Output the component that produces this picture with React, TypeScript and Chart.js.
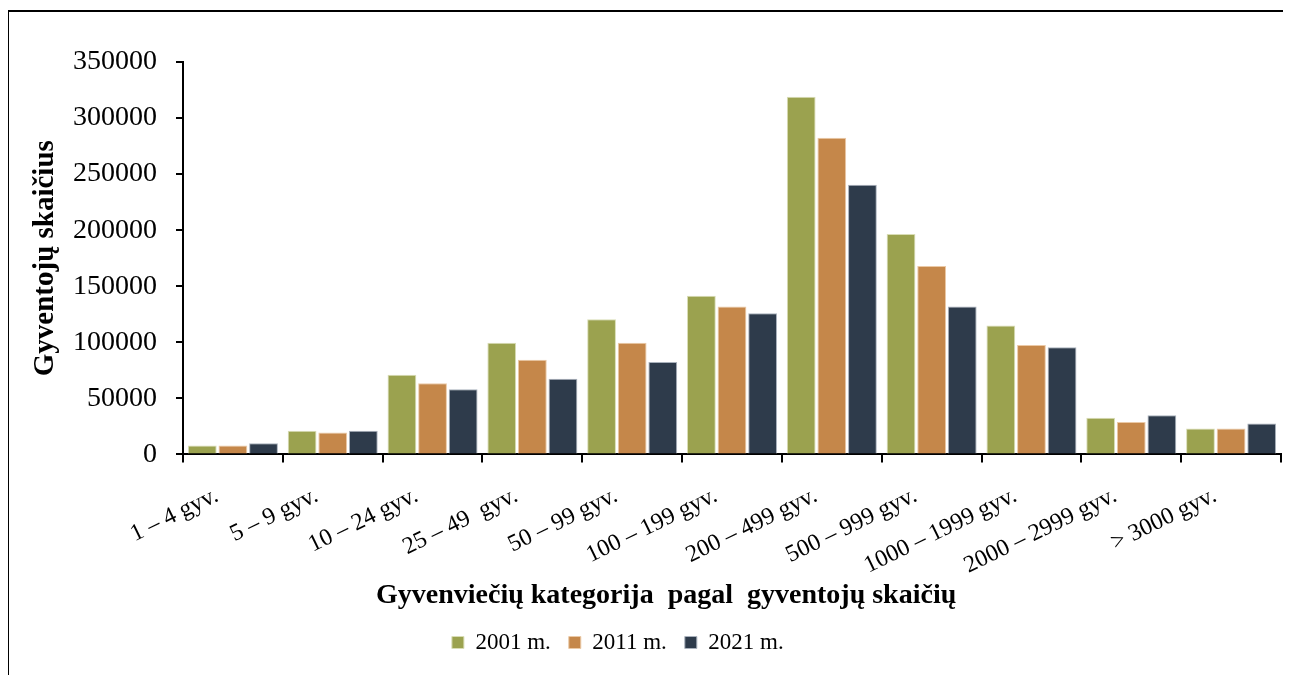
import React, { useEffect, useRef } from "react";
import { Chart, registerables } from "chart.js";

Chart.register(...registerables);

const categories = [
  "1 – 4 gyv.",
  "5 – 9 gyv.",
  "10 – 24 gyv.",
  "25 – 49  gyv.",
  "50 – 99 gyv.",
  "100 – 199 gyv.",
  "200 – 499 gyv.",
  "500 – 999 gyv.",
  "1000 – 1999 gyv.",
  "2000 – 2999 gyv.",
  "> 3000 gyv.",
];

const values2001 = [8000, 21000, 71000, 99500, 120500, 141500, 319000, 196500, 115000, 32800, 23000];
const values2011 = [8000, 19500, 63500, 84500, 99500, 132000, 282500, 168000, 97500, 29000, 23000];
const values2021 = [10000, 21000, 58000, 67500, 82500, 126000, 240500, 132000, 95500, 35000, 27500];

const seriesNames = ["2001 m.", "2011 m.", "2021 m."];
const yTickValues = [0, 50000, 100000, 150000, 200000, 250000, 300000, 350000];
const yTickLabels = ["0", "50000", "100000", "150000", "200000", "250000", "300000", "350000"];
const xTitle = "Gyvenviečių kategorija  pagal  gyventojų skaičių";
const yTitle = "Gyventojų skaičius";

const FONT = "'Liberation Serif', 'Times New Roman', serif";

// shifts the bottom title and legend horizontally (as in the reference layout)
const shiftPlugin = {
  id: "shiftBlocks",
  afterLayout(chart: any) {
    const ca = chart.chartArea;
    const w = ca.right - ca.left;
    const t = chart.titleBlock;
    if (t) {
      const c = (t.left + t.right) / 2;
      const target = ca.left + w * 0.44;
      t.left += target - c;
      t.right += target - c;
    }
    const l = chart.legend;
    if (l) {
      const c = (l.left + l.right) / 2;
      const target = ca.left + w * 0.396;
      l.left += target - c;
      l.right += target - c;
    }
  },
};

export default function App() {
  const ref = useRef<HTMLCanvasElement | null>(null);
  useEffect(() => {
    if (!ref.current) return;
    const mk = (label: string, data: number[], color: string, border: string) => ({
      label,
      data,
      backgroundColor: color,
      borderColor: border,
      borderWidth: 1,
      categoryPercentage: 0.92,
      barPercentage: 0.94,
    });
    const chart = new Chart(ref.current, {
      type: "bar",
      data: {
        labels: categories,
        datasets: [
          mk(seriesNames[0], values2001, "#9BA24F", "#D9DDB5"),
          mk(seriesNames[1], values2011, "#C5874A", "#EBC9A6"),
          mk(seriesNames[2], values2021, "#2E3B4B", "#A9B1BC"),
        ],
      },
      plugins: [shiftPlugin],
      options: {
        animation: false,
        responsive: false,
        maintainAspectRatio: false,
        layout: { padding: { left: 20, right: 10, top: 54, bottom: 11 } },
        plugins: {
          tooltip: { enabled: false },
          title: {
            display: true,
            position: "bottom",
            weight: 500,
            text: xTitle,
            font: { family: FONT, size: 28, weight: "bold" },
            color: "#000",
            padding: { top: 0, bottom: 0 },
          },
          legend: {
            position: "bottom",
            labels: {
              font: { family: FONT, size: 23 },
              color: "#000",
              boxWidth: 12,
              boxHeight: 12,
              padding: 18,
            },
          },
        },
        scales: {
          x: {
            offset: true,
            afterFit(s: any) {
              s.paddingLeft = 0;
              s.paddingRight = 0;
              s.height = 125;
            },
            grid: {
              display: true,
              drawOnChartArea: false,
              offset: true,
              color: "#000",
              lineWidth: 2,
              tickLength: 8,
            },
            border: { color: "#000", width: 2 },
            ticks: {
              font: { family: FONT, size: 24 },
              color: "#000",
              maxRotation: 26,
              minRotation: 26,
              padding: 19,
              labelOffset: -16,
            },
          },
          y: {
            min: yTickValues[0],
            max: yTickValues[yTickValues.length - 1],
            afterFit(s: any) {
              s.width = 155;
            },
            grid: {
              display: true,
              drawOnChartArea: false,
              color: "#000",
              lineWidth: 2,
              tickLength: 7,
            },
            border: { color: "#000", width: 2 },
            ticks: {
              stepSize: yTickValues[1] - yTickValues[0],
              font: { family: FONT, size: 28 },
              color: "#000",
              padding: 19,
              callback: (v: any) => {
                const i = yTickValues.indexOf(Number(v));
                return i >= 0 ? yTickLabels[i] : "";
              },
            },
            title: {
              display: true,
              text: yTitle,
              font: { family: FONT, size: 29, weight: "bold" },
              color: "#000",
              padding: { top: 0, bottom: 11 },
            },
          },
        },
      },
    });
    return () => chart.destroy();
  }, []);

  return (
    <div style={{ position: "relative", width: 1283, height: 667, overflow: "hidden" }}>
      <div
        style={{
          position: "absolute",
          left: -1,
          top: 2,
          width: 1300,
          height: 700,
          borderLeft: "2px solid #000",
          borderTop: "2px solid #000",
          boxSizing: "border-box",
        }}
      />
      <canvas ref={ref} width={1283} height={667} style={{ position: "absolute", left: 0, top: 0 }} />
    </div>
  );
}
